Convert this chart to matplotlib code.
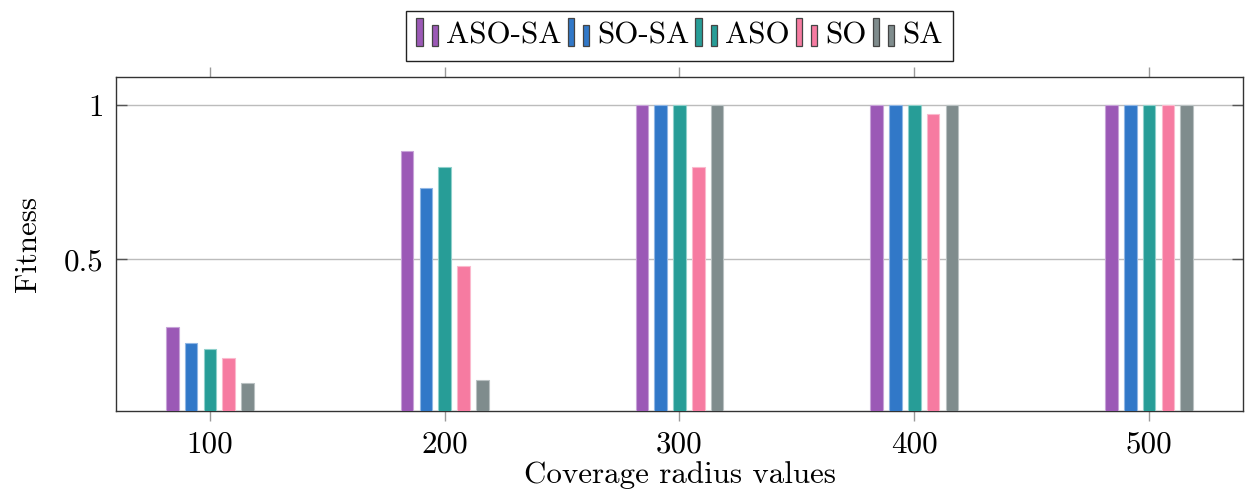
import numpy as np
import matplotlib
matplotlib.use("Agg")
import matplotlib.pyplot as plt
from matplotlib.patches import Rectangle, Patch
from matplotlib.legend_handler import HandlerBase

plt.rcParams["font.family"] = "cmr10"
plt.rcParams["axes.formatter.use_mathtext"] = True
plt.rcParams["axes.unicode_minus"] = False

radii = [100, 200, 300, 400, 500]
series_names = ["ASO-SA", "SO-SA", "ASO", "SO", "SA"]
aso_sa = [0.28, 0.85, 1.00, 1.00, 1.00]
so_sa = [0.23, 0.73, 1.00, 1.00, 1.00]
aso = [0.21, 0.80, 1.00, 1.00, 1.00]
so = [0.18, 0.48, 0.80, 0.97, 1.00]
sa = [0.10, 0.11, 1.00, 1.00, 1.00]
y_ticks = [0.5, 1.0]
y_tick_labels = ["0.5", "1"]

series = [aso_sa, so_sa, aso, so, sa]
colors = ["#9b59b6", "#3178c8", "#279d97", "#f67ba1", "#7f8c8d"]
edge_colors = ["#c7a3d8", "#8fb6e4", "#8fd0cb", "#fbb9cd", "#b9c1c2"]

FS = 22.3

fig = plt.figure(figsize=(12.47, 4.93), dpi=100)
W, H = 1247, 493
ax = fig.add_axes([116 / W, (H - 411) / H, (1243 - 116) / W, (411 - 77) / H])

x = np.array(radii, dtype=float)
offset = 8.0
width = 5.4
for i, (vals, c, ec) in enumerate(zip(series, colors, edge_colors)):
    ax.bar(x + (i - 2) * offset, vals, width=width, color=c, edgecolor=ec,
           linewidth=0.8, zorder=3)

ax.set_xlim(60, 540)
ax.set_ylim(0.009, 1.091)
ax.set_xticks(radii)
ax.set_xticklabels([str(r) for r in radii])
ax.set_yticks(y_ticks)
ax.set_yticklabels(y_tick_labels)

ax.yaxis.grid(True, color="#bcbcbc", linewidth=1.0, zorder=0)
ax.set_axisbelow(True)

ax.tick_params(axis="x", which="both", direction="out", length=7, width=1,
               color="#999999", top=True, bottom=True, labelsize=FS, pad=7)
ax.tick_params(axis="y", which="both", direction="in", length=8, width=1,
               color="#555555", left=True, right=True, labelsize=FS, pad=9)
for s in ax.spines.values():
    s.set_color("#333333")
    s.set_linewidth(1.0)

ax.set_xlabel("Coverage radius values", fontsize=FS, labelpad=2)
ax.set_ylabel("Fitness", fontsize=FS, labelpad=16)


class TwinBarHandler(HandlerBase):
    """Legend key drawn as two small bars, like a ybar legend image."""

    def create_artists(self, legend, orig_handle, xdescent, ydescent,
                       width, height, fontsize, trans):
        fc = orig_handle.get_facecolor()
        bw = width * 0.27
        h = height * 1.3
        y0 = -ydescent - 0.12 * height
        r1 = Rectangle((-xdescent, y0), bw, h,
                       facecolor=fc, edgecolor="#444444", linewidth=0.9,
                       transform=trans)
        r2 = Rectangle((-xdescent + width * 0.66, y0), bw,
                       h * 0.75, facecolor=fc, edgecolor="#444444",
                       linewidth=0.9, transform=trans)
        return [r1, r2]


handles = [Patch(facecolor=c) for c in colors]
leg = fig.legend(handles, series_names, loc="upper center",
                 bbox_to_anchor=(679.5 / W, 1 - 11 / H), ncol=5,
                 fontsize=FS, frameon=True, fancybox=False, framealpha=1,
                 edgecolor="#222222", borderaxespad=0, borderpad=0.35,
                 handlelength=0.75, handleheight=0.7, handletextpad=0.2,
                 columnspacing=0.2,
                 handler_map={Patch: TwinBarHandler()})
leg.get_frame().set_linewidth(1.0)

fig.savefig("out.png", dpi=100)
